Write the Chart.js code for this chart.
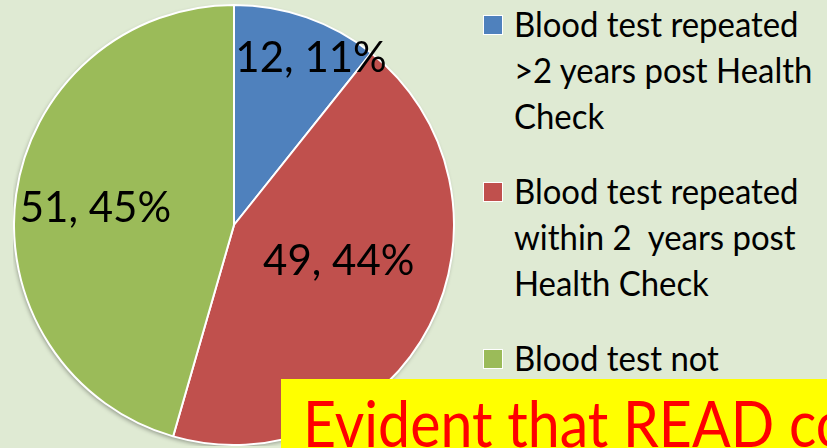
<!DOCTYPE html>
<html>
<head>
<meta charset="utf-8">
<script src="https://cdn.jsdelivr.net/npm/chart.js@4"></script>
<style>
  html, body { margin: 0; padding: 0; }
  body {
    width: 827px; height: 448px; overflow: hidden; position: relative;
    background: #dfead3;
    font-family: Lato, "Open Sans", sans-serif;
  }
  #pie-box { position: absolute; left: 13px; top: 4px; width: 442px; height: 442px; }
  #legend { position: absolute; left: 483px; top: 0px; width: 344px; }
  .item { display: flex; align-items: flex-start; margin-bottom: 29px; }
  .swatch {
    box-sizing: border-box; width: 20px; height: 20px; border: 1px solid #fff;
    margin-top: 15px; flex: none;
  }
  .text {
    margin-left: 11px; font-size: 35px; line-height: 46px; color: #000;
    white-space: pre; transform: scaleX(0.94); transform-origin: 0 0;
  }
  #note {
    position: absolute; left: 281px; top: 379px; right: 0; bottom: 0;
    background: #ffff00; overflow: hidden; white-space: nowrap;
  }
  #note span {
    position: absolute; left: 22px; top: 12px;
    color: #ff0000; font-size: 64px; line-height: 64px;
    transform: scaleX(0.895); transform-origin: 0 0;
  }
</style>
</head>
<body>
<div id="pie-box"><canvas id="pie"></canvas></div>
<div id="legend"></div>
<div id="note"><span>Evident that READ co</span></div>

<script>
// Données
const categories = [
    ['Blood test repeated', '>2 years post Health', 'Check'],
    ['Blood test repeated', 'within 2  years post', 'Health Check'],
    ['Blood test not']
];
const counts = [12, 49, 51];
const percentLabels = ['11%', '44%', '45%'];
const colors = ['#4f81bd', '#c0504d', '#9bbb59'];

// Placement des étiquettes : fraction du rayon et décalage angulaire (degrés)
const labelRadius = [0.78, 0.527, 0.63];
const labelAngleShift = [7.4, -1.9, -6.8];

// Ombre légère sous le camembert
const pieShadow = {
    id: 'pieShadow',
    beforeDatasetsDraw(chart) {
        const arc = chart.getDatasetMeta(0).data[0];
        if (!arc) return;
        const { x, y, outerRadius } = arc.getProps(['x', 'y', 'outerRadius'], true);
        const ctx = chart.ctx;
        ctx.save();
        ctx.shadowColor = 'rgba(0, 0, 0, 0.35)';
        ctx.shadowBlur = 4;
        ctx.shadowOffsetX = -1;
        ctx.shadowOffsetY = 2;
        ctx.fillStyle = '#ffffff';
        ctx.beginPath();
        ctx.arc(x, y, outerRadius, 0, Math.PI * 2);
        ctx.fill();
        ctx.restore();
    }
};

// Étiquettes "valeur, pourcentage" dans chaque part
const sliceLabels = {
    id: 'sliceLabels',
    afterDatasetsDraw(chart) {
        const ctx = chart.ctx;
        const meta = chart.getDatasetMeta(0);
        ctx.save();
        ctx.font = '42px Lato, "Open Sans", sans-serif';
        ctx.fillStyle = '#000';
        ctx.textAlign = 'center';
        ctx.textBaseline = 'alphabetic';
        meta.data.forEach((arc, i) => {
            const { x, y, startAngle, endAngle, outerRadius } =
                arc.getProps(['x', 'y', 'startAngle', 'endAngle', 'outerRadius'], true);
            const mid = (startAngle + endAngle) / 2 + labelAngleShift[i] * Math.PI / 180;
            const r = outerRadius * labelRadius[i];
            ctx.fillText(counts[i] + ', ' + percentLabels[i],
                x + Math.cos(mid) * r, y + Math.sin(mid) * r);
        });
        ctx.restore();
    }
};

const chart = new Chart(document.getElementById('pie'), {
    type: 'pie',
    data: {
        labels: categories,
        datasets: [{
            data: counts,
            backgroundColor: colors,
            borderColor: '#ffffff',
            borderWidth: 2
        }]
    },
    options: {
        responsive: true,
        maintainAspectRatio: false,
        animation: false,
        layout: { padding: 0 },
        plugins: {
            legend: { display: false },
            tooltip: { enabled: false }
        }
    },
    plugins: [pieShadow, sliceLabels]
});

// Légende HTML construite à partir des éléments du graphique
const legendEl = document.getElementById('legend');
chart.options.plugins.legend.labels.generateLabels(chart).forEach(item => {
    const row = document.createElement('div');
    row.className = 'item';
    const sw = document.createElement('div');
    sw.className = 'swatch';
    sw.style.background = item.fillStyle;
    const txt = document.createElement('div');
    txt.className = 'text';
    txt.textContent = [].concat(item.text).join('\n');
    row.appendChild(sw);
    row.appendChild(txt);
    legendEl.appendChild(row);
});
</script>
</body>
</html>
